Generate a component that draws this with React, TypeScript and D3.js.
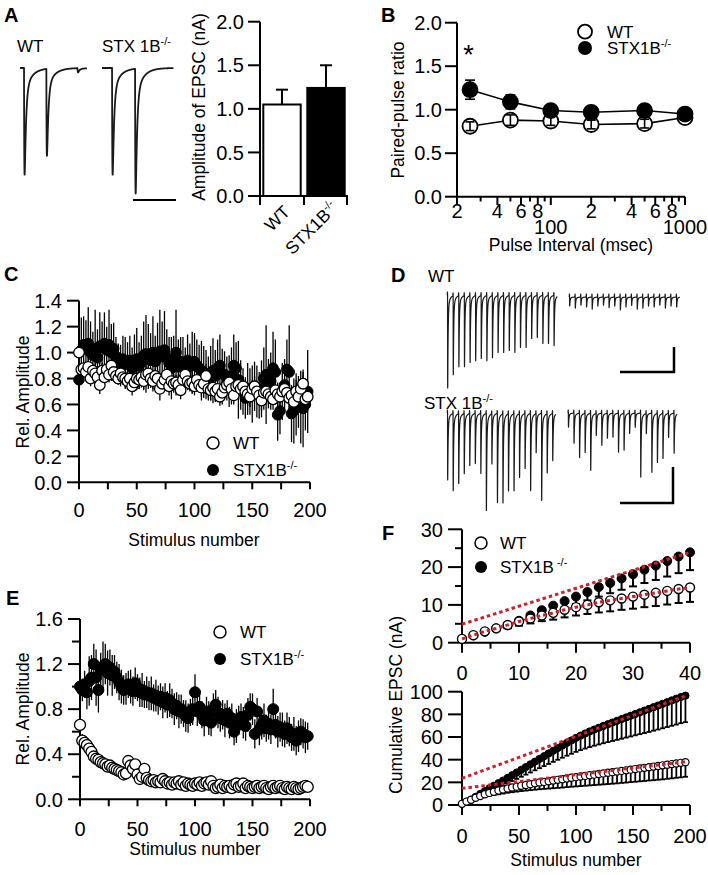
import React from "react";
import * as d3 from "d3";

const FONT = "'Liberation Sans', Arial, Helvetica, sans-serif";
const TICK_FS = 20;
const TITLE_FS = 17.5;
const LEG_FS = 17;
const SUP_FS = 11;
const LETTER_FS = 20;
const RED = "#cf1f2a";

// ---------------- Panel A ----------------
const A_GROUPS = ["WT", "STX1B"];
const A_MEAN = [1.05, 1.24];
const A_SEM = [0.17, 0.26];
const A_Y_TICKS = [0, 0.5, 1.0, 1.5, 2.0];
const A_WT_STIM_MS = [3.6, 23.6, 51.5];
const A_WT_AMP = [1.78, 1.45, 0.07];
const A_STX_STIM_MS = [9.0, 29.6];
const A_STX_AMP = [1.78, 2.08];

// ---------------- Panel B ----------------
const B_INTERVALS = [25, 50, 100, 200, 500, 1000];
const B_WT = [0.81, 0.88, 0.87, 0.83, 0.84, 0.91];
const B_WT_SEM = [0.05, 0.06, 0.05, 0.05, 0.05, 0.03];
const B_STX = [1.23, 1.09, 0.99, 0.97, 0.99, 0.95];
const B_STX_SEM = [0.11, 0.08, 0.05, 0.04, 0.04, 0.03];
const B_Y_TICKS = [0, 0.5, 1.0, 1.5, 2.0];
const B_X_MAJOR = [20, 40, 60, 80, 100, 200, 400, 600, 800, 1000];
const B_X_LABEL1 = ["2", "4", "6", "8", "", "2", "4", "6", "8", ""];
const B_X_LABEL2 = ["", "", "", "", "100", "", "", "", "", "1000"];
const B_X_MINOR = [30, 50, 70, 90, 300, 500, 700, 900];

// ---------------- Panel C ----------------
const C_WT = [
  1.0, 0.87, 0.88, 0.85, 0.89, 0.8, 0.86, 0.84, 0.81, 0.75,
  0.86, 0.81, 0.87, 0.83, 0.9, 0.85, 0.82, 0.8, 0.84, 0.81,
  0.8, 0.78, 0.8, 0.74, 0.77, 0.8, 0.79, 0.81, 0.78, 0.83,
  0.84, 0.8, 0.78, 0.82, 0.8, 0.72, 0.76, 0.79, 0.83, 0.74,
  0.78, 0.76, 0.77, 0.75, 0.71, 0.79, 0.83, 0.78, 0.76, 0.77,
  0.74, 0.79, 0.75, 0.73, 0.76, 0.82, 0.72, 0.71, 0.73, 0.7,
  0.72, 0.66, 0.69, 0.73, 0.75, 0.77, 0.72, 0.67, 0.74, 0.75,
  0.72, 0.74, 0.7, 0.68, 0.66, 0.72, 0.74, 0.7, 0.67, 0.63,
  0.69, 0.7, 0.68, 0.66, 0.64, 0.71, 0.68, 0.66, 0.7, 0.72,
  0.69, 0.65, 0.67, 0.62, 0.7, 0.66, 0.72, 0.76, 0.64, 0.66,
];
const C_WT_ERR = [
  0.0, 0.05, 0.06, 0.05, 0.07, 0.06, 0.05, 0.08, 0.06, 0.07,
  0.06, 0.07, 0.05, 0.06, 0.08, 0.07, 0.06, 0.05, 0.07, 0.06,
  0.07, 0.06, 0.08, 0.07, 0.06, 0.08, 0.07, 0.06, 0.07, 0.08,
  0.06, 0.07, 0.08, 0.06, 0.07, 0.09, 0.07, 0.06, 0.08, 0.07,
  0.08, 0.07, 0.06, 0.08, 0.07, 0.09, 0.08, 0.07, 0.06, 0.08,
  0.07, 0.08, 0.06, 0.07, 0.08, 0.09, 0.07, 0.08, 0.06, 0.07,
  0.08, 0.07, 0.09, 0.08, 0.07, 0.08, 0.06, 0.07, 0.08, 0.09,
  0.07, 0.08, 0.06, 0.09, 0.08, 0.07, 0.08, 0.06, 0.07, 0.08,
  0.09, 0.07, 0.08, 0.06, 0.08, 0.07, 0.09, 0.08, 0.07, 0.08,
  0.08, 0.09, 0.07, 0.08, 0.09, 0.07, 0.08, 0.09, 0.07, 0.08,
];
const C_STX = [
  0.79, 1.02, 1.06, 1.05, 1.07, 1.0, 0.98, 1.03, 0.96, 1.05,
  1.04, 1.07, 1.02, 1.06, 1.0, 1.03, 0.97, 0.93, 0.9, 0.95,
  0.92, 0.91, 0.94, 0.88, 0.92, 0.95, 0.9, 0.93, 0.98, 0.99,
  0.97, 0.94, 1.0, 0.93, 0.98, 1.01, 0.97, 1.02, 0.96, 0.92,
  0.88, 0.95, 1.0, 0.89, 0.93, 0.9, 0.87, 0.94, 0.89, 0.92,
  0.93, 0.9, 0.88, 0.86, 0.85, 0.83, 0.8, 0.84, 0.86, 0.82,
  0.88, 0.9, 0.84, 0.83, 0.8, 0.78, 0.82, 0.9, 0.88, 0.79,
  0.75, 0.7, 0.65, 0.72, 0.7, 0.68, 0.74, 0.7, 0.67, 0.72,
  0.8, 0.83, 0.76, 0.78, 0.88, 0.85, 0.52, 0.55, 0.7, 0.75,
  0.87, 0.85, 0.53, 0.55, 0.6, 0.62, 0.58, 0.57, 0.6, 0.7,
];
const C_STX_ERR = [
  0.1, 0.25, 0.22, 0.2, 0.28, 0.24, 0.18, 0.3, 0.22, 0.26,
  0.2, 0.24, 0.18, 0.27, 0.22, 0.2, 0.15, 0.14, 0.16, 0.18,
  0.2, 0.17, 0.19, 0.16, 0.22, 0.24, 0.18, 0.2, 0.26, 0.3,
  0.25, 0.21, 0.28, 0.2, 0.25, 0.32, 0.27, 0.3, 0.22, 0.2,
  0.24, 0.18, 0.33, 0.21, 0.19, 0.22, 0.17, 0.2, 0.18, 0.24,
  0.22, 0.2, 0.18, 0.23, 0.2, 0.19, 0.17, 0.21, 0.25, 0.2,
  0.22, 0.24, 0.19, 0.18, 0.17, 0.2, 0.22, 0.24, 0.2, 0.3,
  0.19, 0.18, 0.16, 0.2, 0.18, 0.22, 0.19, 0.2, 0.18, 0.22,
  0.24, 0.38, 0.19, 0.22, 0.28, 0.25, 0.2, 0.18, 0.22, 0.2,
  0.23, 0.36, 0.22, 0.25, 0.24, 0.2, 0.28, 0.3, 0.2, 0.32,
];
const C_Y_TICKS = [0, 0.2, 0.4, 0.6, 0.8, 1.0, 1.2, 1.4];

// ---------------- Panel D (sweep peak amplitudes, nA) ----------------
const D_WT_EARLY = [3.1, 2.63, 2.37, 2.37, 2.23, 2.17, 2.1, 2.17, 2.07, 1.9, 1.9, 1.83, 1.9, 1.73, 1.73, 1.43, 1.4, 1.6, 1.6, 1.67];
const D_WT_LATE = [0.3, 0.37, 0.27, 0.33, 0.4, 0.3, 0.27, 0.35, 0.3, 0.43, 0.33, 0.28, 0.4, 0.37, 0.3, 0.33, 0.27, 0.37, 0.3, 0.33];
const D_STX_EARLY = [2.23, 2.57, 2.33, 2.0, 1.73, 1.67, 2.0, 3.23, 1.67, 2.97, 2.97, 2.57, 2.57, 2.13, 1.83, 2.57, 1.3, 2.9, 1.97, 1.57];
const D_STX_LATE = [0.47, 1.0, 1.47, 1.3, 1.9, 0.73, 1.07, 0.83, 0.8, 1.3, 1.23, 0.67, 0.47, 2.13, 0.67, 1.97, 1.63, 1.5, 0.8, 1.33];

// ---------------- Panel E ----------------
const E_STX = [
  1.0, 0.97, 1.02, 0.95, 1.05, 1.08, 1.2, 1.08, 0.97, 1.15,
  1.18, 1.2, 1.12, 1.17, 1.1, 1.13, 1.08, 1.04, 1.0, 0.97,
  0.98, 1.02, 1.0, 0.96, 1.03, 0.99, 0.95, 0.97, 0.93, 0.95,
  0.92, 0.94, 0.9, 0.92, 0.88, 0.91, 0.86, 0.9, 0.84, 0.88,
  0.85, 0.8, 0.83, 0.78, 0.8, 0.76, 0.74, 0.72, 0.77, 0.8,
  0.95, 0.78, 0.82, 0.75, 0.7, 0.78, 0.72, 0.68, 0.8, 0.84,
  0.77, 0.72, 0.75, 0.7, 0.76, 0.68, 0.72, 0.6, 0.65, 0.7,
  0.73, 0.68, 0.65, 0.75, 0.82, 0.8, 0.58, 0.78, 0.62, 0.66,
  0.7, 0.63, 0.67, 0.62, 0.8, 0.66, 0.6, 0.64, 0.62, 0.58,
  0.63, 0.6, 0.55, 0.58, 0.52, 0.56, 0.6, 0.58, 0.55, 0.56,
];
const E_STX_ERR = [
  0.0, 0.1, 0.12, 0.15, 0.22, 0.2, 0.18, 0.25, 0.2, 0.15,
  0.22, 0.18, 0.2, 0.16, 0.18, 0.15, 0.14, 0.16, 0.15, 0.13,
  0.14, 0.12, 0.15, 0.13, 0.14, 0.12, 0.13, 0.15, 0.12, 0.14,
  0.13, 0.15, 0.12, 0.14, 0.13, 0.12, 0.14, 0.13, 0.12, 0.15,
  0.13, 0.14, 0.12, 0.15, 0.13, 0.12, 0.14, 0.13, 0.12, 0.14,
  0.16, 0.13, 0.15, 0.12, 0.14, 0.13, 0.15, 0.12, 0.14, 0.13,
  0.14, 0.12, 0.13, 0.15, 0.12, 0.14, 0.13, 0.12, 0.15, 0.13,
  0.12, 0.14, 0.13, 0.15, 0.12, 0.14, 0.13, 0.12, 0.14, 0.13,
  0.15, 0.12, 0.14, 0.13, 0.18, 0.12, 0.14, 0.13, 0.15, 0.12,
  0.14, 0.13, 0.12, 0.15, 0.13, 0.14, 0.12, 0.13, 0.14, 0.12,
];
const E_WT = [
  0.66, 0.52, 0.5, 0.48, 0.45, 0.42, 0.38, 0.36, 0.35, 0.33,
  0.32, 0.31, 0.29, 0.3, 0.28, 0.27, 0.26, 0.25, 0.24, 0.22,
  0.23, 0.34, 0.3, 0.27, 0.31, 0.22, 0.18, 0.2, 0.27, 0.19,
  0.17, 0.16, 0.17, 0.15, 0.16, 0.15, 0.18, 0.16, 0.14, 0.15,
  0.13, 0.15, 0.14, 0.16, 0.13, 0.15, 0.12, 0.14, 0.13, 0.12,
  0.14, 0.13, 0.15, 0.12, 0.14, 0.15, 0.13, 0.16, 0.12, 0.1,
  0.11, 0.13, 0.1, 0.12, 0.11, 0.12, 0.1, 0.13, 0.14, 0.11,
  0.12, 0.14, 0.1, 0.12, 0.11, 0.1, 0.11, 0.12, 0.1, 0.11,
  0.12, 0.1, 0.09, 0.11, 0.12, 0.1, 0.11, 0.12, 0.1, 0.09,
  0.11, 0.1, 0.09, 0.11, 0.1, 0.09, 0.1, 0.11, 0.12, 0.11,
];
const E_WT_ERR = [
  0.05, 0.06, 0.05, 0.05, 0.04, 0.04, 0.04, 0.04, 0.04, 0.03,
  0.03, 0.04, 0.03, 0.03, 0.03, 0.04, 0.03, 0.03, 0.03, 0.03,
  0.03, 0.04, 0.03, 0.03, 0.04, 0.03, 0.03, 0.03, 0.03, 0.03,
  0.03, 0.02, 0.03, 0.03, 0.02, 0.03, 0.03, 0.02, 0.03, 0.02,
  0.03, 0.02, 0.03, 0.02, 0.02, 0.03, 0.02, 0.02, 0.03, 0.02,
  0.02, 0.03, 0.02, 0.02, 0.03, 0.02, 0.02, 0.03, 0.02, 0.02,
  0.02, 0.03, 0.02, 0.02, 0.02, 0.03, 0.02, 0.02, 0.02, 0.02,
  0.02, 0.02, 0.03, 0.02, 0.02, 0.02, 0.02, 0.03, 0.02, 0.02,
  0.02, 0.02, 0.02, 0.03, 0.02, 0.02, 0.02, 0.02, 0.02, 0.02,
  0.02, 0.02, 0.02, 0.02, 0.02, 0.02, 0.02, 0.02, 0.02, 0.02,
];
const E_Y_TICKS = [0, 0.4, 0.8, 1.2, 1.6];
const E_Y_MINOR = [0.2, 0.6, 1.0, 1.4];

// ---------------- Panel F ----------------
const F_TOP_STIM = [0, 2, 4, 6, 8, 10, 12, 14, 16, 18, 20, 22, 24, 26, 28, 30, 32, 34, 36, 38, 40];
const F_TOP_WT = [1.0, 2.0, 3.0, 3.8, 4.7, 5.6, 6.4, 7.2, 7.9, 8.7, 9.4, 10.0, 10.7, 11.2, 11.7, 12.2, 12.7, 13.2, 13.7, 14.2, 14.6];
const F_TOP_WT_ERR = [0.1, 0.3, 0.5, 0.7, 0.9, 1.1, 1.3, 1.5, 1.8, 2.0, 2.2, 2.4, 2.7, 2.9, 3.0, 3.2, 3.3, 3.5, 3.6, 3.7, 3.8];
const F_TOP_STX = [1.0, 1.9, 2.9, 3.8, 4.6, 5.8, 7.2, 8.6, 9.8, 11.0, 12.2, 13.4, 14.7, 15.8, 17.0, 18.1, 19.3, 20.4, 21.6, 22.8, 23.9];
const F_TOP_STX_ERR = [0.1, 0.2, 0.4, 0.5, 0.7, 0.9, 1.1, 1.3, 1.5, 1.7, 2.0, 2.2, 2.5, 2.7, 3.0, 3.2, 3.5, 3.8, 4.1, 4.4, 4.7];
const F_TOP_STX_FIT = [4.9, 0.475]; // intercept, slope
const F_BOT_STX = [
  1.0, 2.9, 4.6, 7.2, 9.8, 12.2, 14.7, 17.0, 19.3, 21.6,
  23.9, 26.3, 28.7, 31.1, 33.5, 35.9, 38.3, 40.7, 43.1, 45.5,
  47.9, 50.2, 52.5, 54.8, 57.0, 59.2, 61.2, 63.1, 64.9, 66.6,
  68.2, 69.8, 71.3, 72.8, 74.3, 75.8, 77.3, 78.8, 80.3, 81.8,
  83.3, 84.8, 86.3, 87.8, 89.3, 90.8, 92.3, 93.8, 95.3, 96.5,
];
const F_BOT_STX_ERR = [
  0.1, 0.5, 0.9, 1.4, 2.0, 2.5, 3.0, 3.5, 3.9, 4.3,
  4.7, 5.2, 5.7, 6.2, 6.7, 7.2, 7.7, 8.2, 8.8, 9.3,
  9.8, 10.3, 10.8, 11.3, 11.8, 12.3, 12.8, 13.3, 13.8, 14.3,
  14.8, 15.3, 15.8, 16.3, 16.8, 17.3, 17.8, 18.3, 18.8, 19.3,
  19.8, 20.3, 20.7, 21.2, 21.6, 22.0, 22.4, 22.8, 23.1, 23.4,
];
const F_BOT_WT = [
  1.0, 3.0, 4.7, 6.4, 7.9, 9.4, 10.7, 11.7, 12.7, 13.7,
  14.6, 15.4, 16.2, 17.0, 17.7, 18.4, 19.1, 19.8, 20.4, 21.0,
  21.6, 22.2, 22.8, 23.4, 24.0, 24.6, 25.1, 25.7, 26.2, 26.8,
  27.3, 27.9, 28.4, 29.0, 29.5, 30.1, 30.6, 31.2, 31.7, 32.3,
  32.8, 33.4, 33.9, 34.5, 35.0, 35.6, 36.1, 36.7, 37.2, 37.8,
];
const F_BOT_WT_ERR = [
  0.1, 0.5, 0.9, 1.3, 1.8, 2.3, 2.7, 3.0, 3.3, 3.6,
  3.8, 4.1, 4.4, 4.7, 5.0, 5.3, 5.6, 5.9, 6.2, 6.5,
  6.8, 7.1, 7.4, 7.6, 7.9, 8.2, 8.4, 8.7, 8.9, 9.2,
  9.4, 9.7, 9.9, 10.2, 10.4, 10.6, 10.8, 11.0, 11.2, 11.4,
  11.6, 11.8, 12.0, 12.2, 12.4, 12.5, 12.6, 12.7, 12.8, 12.9,
];
const F_BOT_STX_FIT = [23.5, 0.371];
const F_BOT_WT_FIT = [14.7, 0.12];

// ---------------- helpers ----------------
type LS = d3.ScaleLinear<number, number>;

function YAxis({ scale, x, ticks, fmt, len = 12, minor = [], minorLen = 7, gap = 5 }: any) {
  const [r0, r1] = scale.range();
  return (
    <g>
      <line x1={x} x2={x} y1={r0 + 1} y2={r1} stroke="#000" strokeWidth={2} />
      {ticks.map((t: number) => (
        <line key={"t" + t} x1={x - len} x2={x} y1={scale(t)} y2={scale(t)} stroke="#000" strokeWidth={2} />
      ))}
      {minor.map((t: number) => (
        <line key={"m" + t} x1={x - minorLen} x2={x} y1={scale(t)} y2={scale(t)} stroke="#000" strokeWidth={2} />
      ))}
      {ticks.map((t: number) => (
        <text key={"l" + t} x={x - len - gap} y={scale(t)} dy="0.36em" textAnchor="end" fontSize={TICK_FS}>
          {fmt(t)}
        </text>
      ))}
    </g>
  );
}

function XAxis({ scale, y, ticks, labels, labelY, len = 8, minor = [], minorLen = 5 }: any) {
  const [r0, r1] = scale.range();
  return (
    <g>
      <line x1={r0 - 1} x2={r1} y1={y} y2={y} stroke="#000" strokeWidth={2} />
      {ticks.map((t: number) => (
        <line key={"t" + t} x1={scale(t)} x2={scale(t)} y1={y} y2={y + len} stroke="#000" strokeWidth={2} />
      ))}
      {minor.map((t: number) => (
        <line key={"m" + t} x1={scale(t)} x2={scale(t)} y1={y} y2={y + minorLen} stroke="#000" strokeWidth={2} />
      ))}
      {labels.map((t: number) => (
        <text key={"l" + t} x={scale(t)} y={labelY} textAnchor="middle" fontSize={TICK_FS}>
          {t}
        </text>
      ))}
    </g>
  );
}

function Sup({ text }: { text: string }) {
  return (
    <tspan fontSize={SUP_FS} dy={-7}>
      {text}
    </tspan>
  );
}

function Letter({ x, y, t }: any) {
  return (
    <text x={x} y={y} fontSize={LETTER_FS} fontWeight="bold">
      {t}
    </text>
  );
}

function YTitle({ x, y, children }: any) {
  return (
    <text transform={`translate(${x},${y}) rotate(-90)`} textAnchor="middle" fontSize={TITLE_FS}>
      {children}
    </text>
  );
}

type Shape = { rise: number; tau1: number; tau2: number; fast: number; art: number };

function epsc(s: number, p: Shape) {
  if (s <= 0) return 0;
  return (1 - Math.exp(-s / p.rise)) * (p.fast * Math.exp(-s / p.tau1) + (1 - p.fast) * Math.exp(-s / p.tau2));
}

function buildTrace(stims: number[], amps: number[], tEnd: number, dt: number, p: Shape) {
  const peak = d3.max(d3.range(0, 20, 0.005), (s) => epsc(s, p)) as number;
  return d3.range(0, tEnd, dt).map((t) => {
    let v = 0;
    stims.forEach((s, i) => {
      v -= (amps[i] * epsc(t - s, p)) / peak;
      const a = t - (s - 0.5);
      if (a > 0 && a < 0.5) v += p.art * Math.sin((a / 0.5) * Math.PI);
    });
    return [t, v] as [number, number];
  });
}

function Trace({ data, xs, ys, w = 1.3 }: { data: [number, number][]; xs: LS; ys: LS; w?: number }) {
  const line = d3
    .line<[number, number]>()
    .x((d) => xs(d[0]))
    .y((d) => ys(d[1]));
  return <path d={line(data) || ""} fill="none" stroke="#1a1a1a" strokeWidth={w} strokeLinejoin="round" />;
}

function ErrBars({ xs, ys, xv, yv, ev, cap = 0, down = true, up = true, width = 1.3, color = "#000" }: any) {
  return (
    <g stroke={color} strokeWidth={width}>
      {yv.map((v: number, i: number) => {
        const x = xs(xv[i]);
        const y0 = ys(down ? v - ev[i] : v);
        const y1 = ys(up ? v + ev[i] : v);
        return (
          <g key={i}>
            <line x1={x} x2={x} y1={y0} y2={y1} />
            {cap > 0 && up && <line x1={x - cap / 2} x2={x + cap / 2} y1={y1} y2={y1} />}
            {cap > 0 && down && <line x1={x - cap / 2} x2={x + cap / 2} y1={y0} y2={y0} />}
          </g>
        );
      })}
    </g>
  );
}

function Dots({ xs, ys, xv, yv, r, filled, sw = 1.3 }: any) {
  return (
    <g>
      {yv.map((v: number, i: number) => (
        <circle key={i} cx={xs(xv[i])} cy={ys(v)} r={r} fill={filled ? "#000" : "#fff"} stroke="#000" strokeWidth={sw} />
      ))}
    </g>
  );
}

// ---------------- App ----------------
export default function App() {
  // ---- A ----
  const yA = d3.scaleLinear().domain([0, 2]).range([196, 21.7]);
  const xA = d3.scaleBand<string>().domain(A_GROUPS).range([260, 348]).paddingInner(0.15).paddingOuter(0.075);
  const aTraceY = d3.scaleLinear().domain([0, -2]).range([68, 188]);
  const aWTx = d3.scaleLinear().domain([0, 60]).range([20, 87]);
  const aSTXx = d3.scaleLinear().domain([0, 64]).range([102, 173.5]);
  const shapeA: Shape = { rise: 0.3, tau1: 1.2, tau2: 6, fast: 0.86, art: 0 };
  const aWT = buildTrace(A_WT_STIM_MS, A_WT_AMP, 60, 0.05, shapeA);
  const aSTX = buildTrace(A_STX_STIM_MS, A_STX_AMP, 64, 0.05, shapeA);

  // ---- B ----
  const yB = d3.scaleLinear().domain([0, 2]).range([196.7, 22.7]);
  const xB = d3.scaleLog().domain([20, 1000]).range([457, 685]);
  const bLine = (vals: number[]) =>
    d3.line<number>().x((_, i) => xB(B_INTERVALS[i])).y((d) => yB(d))(vals) || "";

  // ---- C ----
  const stim2 = d3.range(0, 200, 2);
  const xC = d3.scaleLinear().domain([0, 200]).range([79, 310]);
  const yC = d3.scaleLinear().domain([0, 1.4]).range([482.3, 300.7]);

  // ---- D ----
  const dStims = d3.range(20).map((k) => 10 * k + 1);
  const shapeD: Shape = { rise: 0.12, tau1: 0.7, tau2: 3.5, fast: 0.9, art: 0.1 };
  const dY = (base: number) => d3.scaleLinear().domain([0, -1]).range([base, base + 30]);
  const dWT1 = buildTrace(dStims, D_WT_EARLY, 197, 0.04, shapeD);
  const dWT2 = buildTrace(dStims, D_WT_LATE, 197, 0.04, shapeD);
  const dSTX1 = buildTrace(dStims, D_STX_EARLY, 197, 0.04, shapeD);
  const dSTX2 = buildTrace(dStims, D_STX_LATE, 197, 0.04, shapeD);

  // ---- E ----
  const xE = d3.scaleLinear().domain([0, 200]).range([80, 310]);
  const yE = d3.scaleLinear().domain([0, 1.6]).range([799.3, 619]);

  // ---- F ----
  const xF1 = d3.scaleLinear().domain([0, 40]).range([462, 690]);
  const yF1 = d3.scaleLinear().domain([0, 30]).range([642.7, 529.3]);
  const xF2 = d3.scaleLinear().domain([0, 200]).range([462, 690]);
  const yF2 = d3.scaleLinear().domain([0, 100]).range([805, 691.7]);
  const stim4 = d3.range(0, 200, 4);
  const fitPath = (xs: LS, ys: LS, p: number[], x0: number, x1: number) =>
    `M${xs(x0)},${ys(p[0] + p[1] * x0)}L${xs(x1)},${ys(p[0] + p[1] * x1)}`;
  const wtTopLine =
    d3.line<number>().x((_, i) => xF1(F_TOP_STIM[i])).y((d) => yF1(d))(F_TOP_WT) || "";

  const f1 = (v: number) => v.toFixed(1);

  return (
    <svg
      width={708}
      height={875}
      style={{ position: "absolute", left: 0, top: 0, display: "block", background: "#fff" }}
      fontFamily={FONT}
      fill="#000"
    >
      <rect x={0} y={0} width={708} height={875} fill="#fff" />

      {/* ================= A ================= */}
      <Letter x={4} y={22} t="A" />
      <text x={17} y={52} fontSize={LEG_FS}>WT</text>
      <text x={102} y={52} fontSize={LEG_FS}>
        STX 1B<Sup text="-/-" />
      </text>
      <Trace data={aWT} xs={aWTx} ys={aTraceY} w={1.8} />
      <Trace data={aSTX} xs={aSTXx} ys={aTraceY} w={1.8} />
      <line x1={133} x2={176} y1={200} y2={200} stroke="#000" strokeWidth={2.2} />

      <YAxis scale={yA} x={260} ticks={A_Y_TICKS} fmt={f1} len={12} gap={4} />
      <line x1={259} x2={348} y1={196} y2={196} stroke="#000" strokeWidth={2} />
      {[260, 304, 347].map((x) => (
        <line key={x} x1={x} x2={x} y1={196} y2={205} stroke="#000" strokeWidth={2} />
      ))}
      {A_GROUPS.map((g, i) => {
        const x0 = xA(g) as number;
        const bw = xA.bandwidth();
        const cx = x0 + bw / 2;
        return (
          <g key={g}>
            <line x1={cx} x2={cx} y1={yA(A_MEAN[i])} y2={yA(A_MEAN[i] + A_SEM[i])} stroke="#000" strokeWidth={2} />
            <line x1={cx - 6} x2={cx + 6} y1={yA(A_MEAN[i] + A_SEM[i])} y2={yA(A_MEAN[i] + A_SEM[i])} stroke="#000" strokeWidth={2} />
            <rect
              x={x0}
              y={yA(A_MEAN[i])}
              width={bw}
              height={yA(0) - yA(A_MEAN[i])}
              fill={i === 0 ? "#fff" : "#000"}
              stroke="#000"
              strokeWidth={2}
            />
          </g>
        );
      })}
      <text transform={`translate(${(xA("WT") as number) + xA.bandwidth() / 2 + 9},${213}) rotate(-45)`} textAnchor="end" fontSize={TITLE_FS}>
        WT
      </text>
      <text transform={`translate(${(xA("STX1B") as number) + xA.bandwidth() / 2 + 13},${209}) rotate(-45)`} textAnchor="end" fontSize={TITLE_FS}>
        STX1B<Sup text="-/-" />
      </text>
      <YTitle x={205} y={107}>Amplitude of EPSC (nA)</YTitle>

      {/* ================= B ================= */}
      <Letter x={381} y={22} t="B" />
      <YAxis scale={yB} x={457} ticks={B_Y_TICKS} fmt={f1} len={12} gap={3} />
      <line x1={456} x2={685} y1={196.7} y2={196.7} stroke="#000" strokeWidth={2} />
      {B_X_MAJOR.map((t) => (
        <line key={"M" + t} x1={xB(t)} x2={xB(t)} y1={196.7} y2={205} stroke="#000" strokeWidth={2} />
      ))}
      {B_X_MINOR.map((t) => (
        <line key={"m" + t} x1={xB(t)} x2={xB(t)} y1={196.7} y2={201.5} stroke="#000" strokeWidth={2} />
      ))}
      {B_X_MAJOR.map((t, i) => (
        <g key={"lab" + t}>
          {B_X_LABEL1[i] && (
            <text x={xB(t)} y={218} textAnchor="middle" fontSize={TICK_FS}>{B_X_LABEL1[i]}</text>
          )}
          {B_X_LABEL2[i] && (
            <text x={xB(t)} y={234} textAnchor="middle" fontSize={TICK_FS}>{B_X_LABEL2[i]}</text>
          )}
        </g>
      ))}
      <text x={571} y={251} textAnchor="middle" fontSize={TITLE_FS}>Pulse Interval (msec)</text>
      <YTitle x={404} y={110}>Paired-pulse ratio</YTitle>
      <path d={bLine(B_WT)} fill="none" stroke="#000" strokeWidth={1.6} />
      <Dots xs={xB} ys={yB} xv={B_INTERVALS} yv={B_WT} r={7.5} filled={false} sw={1.8} />
      <ErrBars xs={xB} ys={yB} xv={B_INTERVALS} yv={B_WT} ev={B_WT_SEM} cap={9} width={1.6} />
      <path d={bLine(B_STX)} fill="none" stroke="#000" strokeWidth={1.6} />
      <ErrBars xs={xB} ys={yB} xv={B_INTERVALS} yv={B_STX} ev={B_STX_SEM} cap={10} width={1.6} />
      <Dots xs={xB} ys={yB} xv={B_INTERVALS} yv={B_STX} r={7.5} filled={true} sw={1.8} />
      <text x={468.5} y={64} textAnchor="middle" fontSize={27}>*</text>
      <circle cx={585} cy={31.7} r={7} fill="#fff" stroke="#000" strokeWidth={1.8} />
      <text x={607} y={37.5} fontSize={LEG_FS}>WT</text>
      <circle cx={585} cy={48} r={7} fill="#000" />
      <text x={607} y={54} fontSize={LEG_FS}>
        STX1B<Sup text="-/-" />
      </text>

      {/* ================= C ================= */}
      <Letter x={4} y={281} t="C" />
      <YAxis scale={yC} x={79} ticks={C_Y_TICKS} fmt={f1} len={12} gap={5} />
      <XAxis scale={xC} y={482.3} ticks={d3.range(0, 201, 25)} labels={[0, 50, 100, 150, 200]} labelY={517} len={7} />
      <text x={194} y={546} textAnchor="middle" fontSize={TITLE_FS}>Stimulus number</text>
      <YTitle x={29} y={392}>Rel. Amplitude</YTitle>
      <ErrBars xs={xC} ys={yC} xv={stim2} yv={C_STX} ev={C_STX_ERR} width={1.3} />
      <Dots xs={xC} ys={yC} xv={stim2} yv={C_STX} r={5.3} filled={true} sw={1} />
      <ErrBars xs={xC} ys={yC} xv={stim2} yv={C_WT} ev={C_WT_ERR} width={1.3} />
      <Dots xs={xC} ys={yC} xv={stim2} yv={C_WT} r={5.3} filled={false} sw={1.3} />
      <circle cx={213} cy={443} r={6} fill="#fff" stroke="#000" strokeWidth={1.5} />
      <text x={233} y={449} fontSize={LEG_FS}>WT</text>
      <circle cx={213} cy={470} r={6} fill="#000" />
      <text x={233} y={476} fontSize={LEG_FS}>
        STX1B<Sup text="-/-" />
      </text>

      {/* ================= D ================= */}
      <Letter x={391} y={282} t="D" />
      <text x={428} y={282} fontSize={LEG_FS}>WT</text>
      <Trace data={dWT1} xs={d3.scaleLinear().domain([0, 200]).range([447, 559])} ys={dY(295)} w={1.2} />
      <Trace data={dWT2} xs={d3.scaleLinear().domain([0, 200]).range([569, 681.6])} ys={dY(297)} w={1.2} />
      <path d="M674,347 L674,372 L620,372" fill="none" stroke="#000" strokeWidth={2.5} />
      <text x={424} y={409} fontSize={LEG_FS}>
        STX 1B<Sup text="-/-" />
      </text>
      <Trace data={dSTX1} xs={d3.scaleLinear().domain([0, 200]).range([447, 557.6])} ys={dY(413)} w={1.2} />
      <Trace data={dSTX2} xs={d3.scaleLinear().domain([0, 200]).range([567.8, 679])} ys={dY(413)} w={1.2} />
      <path d="M673,467 L673,503 L620,503" fill="none" stroke="#000" strokeWidth={2.5} />

      {/* ================= E ================= */}
      <Letter x={6} y={605} t="E" />
      <YAxis scale={yE} x={80} ticks={E_Y_TICKS} fmt={f1} len={12} minor={E_Y_MINOR} minorLen={8} gap={5} />
      <XAxis scale={xE} y={799.3} ticks={d3.range(0, 201, 25)} labels={[0, 50, 100, 150, 200]} labelY={836} len={7} />
      <text x={195} y={855} textAnchor="middle" fontSize={TITLE_FS}>Stimulus number</text>
      <YTitle x={29} y={709}>Rel. Amplitude</YTitle>
      <ErrBars xs={xE} ys={yE} xv={stim2} yv={E_WT} ev={E_WT_ERR} width={1.2} />
      <Dots xs={xE} ys={yE} xv={stim2} yv={E_WT} r={5.5} filled={false} sw={1.3} />
      <ErrBars xs={xE} ys={yE} xv={stim2} yv={E_STX} ev={E_STX_ERR} width={1.3} />
      <Dots xs={xE} ys={yE} xv={stim2} yv={E_STX} r={5.5} filled={true} sw={1} />
      <circle cx={220} cy={632} r={6} fill="#fff" stroke="#000" strokeWidth={1.5} />
      <text x={240} y={638} fontSize={LEG_FS}>WT</text>
      <circle cx={220} cy={659} r={6} fill="#000" />
      <text x={240} y={665} fontSize={LEG_FS}>
        STX1B<Sup text="-/-" />
      </text>

      {/* ================= F ================= */}
      <Letter x={382} y={540} t="F" />
      <YAxis scale={yF1} x={462} ticks={[0, 10, 20, 30]} fmt={(v: number) => String(v)} len={14} minor={[5, 15, 25]} minorLen={7} gap={5} />
      <XAxis scale={xF1} y={642.7} ticks={[0, 10, 20, 30, 40]} minor={[5, 15, 25, 35]} labels={[0, 10, 20, 30, 40]} labelY={680} len={10} minorLen={6} />
      <ErrBars xs={xF1} ys={yF1} xv={F_TOP_STIM} yv={F_TOP_STX} ev={F_TOP_STX_ERR} cap={8} up={false} width={2} />
      <ErrBars xs={xF1} ys={yF1} xv={F_TOP_STIM} yv={F_TOP_WT} ev={F_TOP_WT_ERR} cap={8} up={false} width={2} />
      <Dots xs={xF1} ys={yF1} xv={F_TOP_STIM} yv={F_TOP_STX} r={4.5} filled={true} sw={1} />
      <Dots xs={xF1} ys={yF1} xv={F_TOP_STIM} yv={F_TOP_WT} r={4.5} filled={false} sw={1.4} />
      <path d={fitPath(xF1, yF1, F_TOP_STX_FIT, 0, 40)} stroke={RED} strokeWidth={3} strokeDasharray="3.5 3" fill="none" />
      <path d={wtTopLine} stroke={RED} strokeWidth={3} strokeDasharray="3.5 3" fill="none" />
      <circle cx={481} cy={543} r={6} fill="#fff" stroke="#000" strokeWidth={1.5} />
      <text x={500} y={549} fontSize={LEG_FS}>WT</text>
      <circle cx={481} cy={567} r={6} fill="#000" />
      <text x={500} y={573} fontSize={LEG_FS}>
        STX1B<Sup text=" -/-" />
      </text>

      <YAxis scale={yF2} x={462} ticks={[0, 20, 40, 60, 80, 100]} fmt={(v: number) => String(v)} len={14} gap={5} />
      <XAxis scale={xF2} y={805} ticks={[0, 50, 100, 150, 200]} minor={[25, 75, 125, 175]} labels={[0, 50, 100, 150, 200]} labelY={843} len={10} minorLen={6} />
      <ErrBars xs={xF2} ys={yF2} xv={stim4} yv={F_BOT_STX} ev={F_BOT_STX_ERR} cap={5} up={false} width={1.8} />
      <ErrBars xs={xF2} ys={yF2} xv={stim4} yv={F_BOT_WT} ev={F_BOT_WT_ERR} cap={5} up={false} width={1.8} />
      <Dots xs={xF2} ys={yF2} xv={stim4} yv={F_BOT_STX} r={3.6} filled={true} sw={1} />
      <Dots xs={xF2} ys={yF2} xv={stim4} yv={F_BOT_WT} r={3.6} filled={false} sw={1.2} />
      <path d={fitPath(xF2, yF2, F_BOT_STX_FIT, 0, 196)} stroke={RED} strokeWidth={3} strokeDasharray="3.5 3" fill="none" />
      <path d={fitPath(xF2, yF2, F_BOT_WT_FIT, 0, 196)} stroke={RED} strokeWidth={3} strokeDasharray="3.5 3" fill="none" />
      <text x={576} y={866} textAnchor="middle" fontSize={TITLE_FS}>Stimulus number</text>
      <YTitle x={402} y={705}>Cumulative EPSC (nA)</YTitle>
    </svg>
  );
}
